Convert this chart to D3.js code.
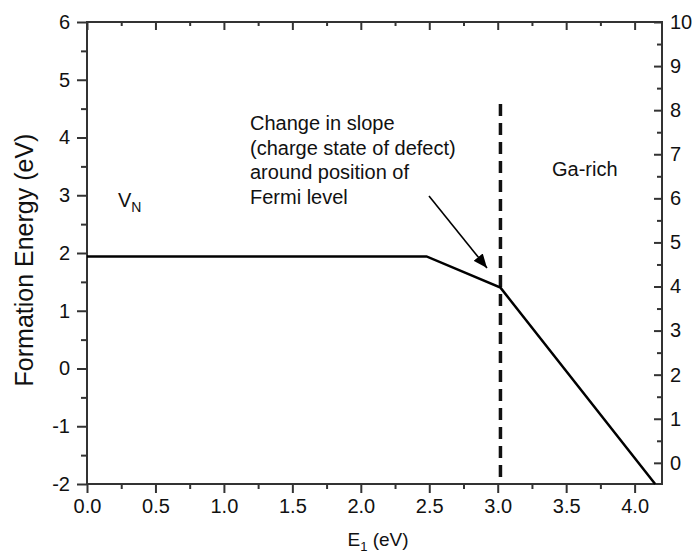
<!DOCTYPE html>
<html>
<head>
<meta charset="utf-8">
<script src="https://cdn.jsdelivr.net/npm/d3@7"></script>
<style>
  html, body { margin: 0; padding: 0; background: #fff; }
  svg { display: block; font-family: "Liberation Sans", Arial, Helvetica, sans-serif; }
</style>
</head>
<body>
<svg id="chart" width="692" height="556"></svg>
<script>
// Formation energy of the nitrogen vacancy versus Fermi level
const fermiLevel = [0, 2.48, 3.02, 4.15];
const formationEnergy = [1.94, 1.94, 1.40, -2.0];
const xTicks = [0, 0.5, 1.0, 1.5, 2.0, 2.5, 3.0, 3.5, 4.0];
const xMinorTicks = [0.25, 0.75, 1.25, 1.75, 2.25, 2.75, 3.25, 3.75];
const yTicks = [-2, -1, 0, 1, 2, 3, 4, 5, 6];
const yMinorTicks = [-1.5, -0.5, 0.5, 1.5, 2.5, 3.5, 4.5, 5.5];
const y2Ticks = [0, 1, 2, 3, 4, 5, 6, 7, 8, 9, 10];
const y2MinorTicks = [0.5, 1.5, 2.5, 3.5, 4.5, 5.5, 6.5, 7.5, 8.5, 9.5];
const bandEdge = [3.02];
const annotationLines = ["Change in slope", "(charge state of defect)", "around position of", "Fermi level"];

const svg = d3.select("#chart");
const L = 87, R = 662, T = 22, B = 484;

const x = d3.scaleLinear().domain([0, 4.2]).range([L, R]);
const y = d3.scaleLinear().domain([-2, 6]).range([B, T]);
const y2 = d3.scaleLinear().domain([-0.48, 10]).range([B, T]);

const axisColor = "#333";
const fontSize = 20;

function styleAxis(g, labels) {
  g.select(".domain").remove();
  g.selectAll(".tick line").attr("stroke", axisColor).attr("stroke-width", 2);
  g.selectAll(".tick text")
    .attr("fill", "#111")
    .style("font-size", labels ? fontSize + "px" : "0px")
    .style("font-family", "'Liberation Sans', Arial, sans-serif");
}

const fmt = d => String(d);

// left axis
svg.append("g").attr("transform", `translate(${L},0)`)
  .call(d3.axisLeft(y).tickValues(yTicks).tickFormat(fmt).tickSize(10).tickPadding(7))
  .call(g => styleAxis(g, true));
svg.append("g").attr("transform", `translate(${L},0)`)
  .call(d3.axisLeft(y).tickValues(yMinorTicks).tickFormat("").tickSize(6))
  .call(g => styleAxis(g, false));

// right axis (ticks inward)
svg.append("g").attr("transform", `translate(${R},0)`)
  .call(d3.axisRight(y2).tickValues(y2Ticks).tickFormat(fmt).tickSize(-8).tickPadding(8))
  .call(g => styleAxis(g, true));
svg.append("g").attr("transform", `translate(${R},0)`)
  .call(d3.axisRight(y2).tickValues(y2MinorTicks).tickFormat("").tickSize(-5))
  .call(g => styleAxis(g, false));

// bottom axis
svg.append("g").attr("transform", `translate(0,${B})`)
  .call(d3.axisBottom(x).tickValues(xTicks).tickFormat(d3.format(".1f")).tickSize(9).tickPadding(6))
  .call(g => styleAxis(g, true));
svg.append("g").attr("transform", `translate(0,${B})`)
  .call(d3.axisBottom(x).tickValues(xMinorTicks).tickFormat("").tickSize(5))
  .call(g => styleAxis(g, false));

// top axis (ticks inward, no labels)
svg.append("g").attr("transform", `translate(0,${T})`)
  .call(d3.axisTop(x).tickValues(xTicks).tickFormat("").tickSize(-8))
  .call(g => styleAxis(g, false));
svg.append("g").attr("transform", `translate(0,${T})`)
  .call(d3.axisTop(x).tickValues(xMinorTicks).tickFormat("").tickSize(-4))
  .call(g => styleAxis(g, false));

// frame
svg.append("rect")
  .attr("x", L).attr("y", T).attr("width", R - L).attr("height", B - T)
  .attr("fill", "none").attr("stroke", axisColor).attr("stroke-width", 2);

// band edge marker
svg.selectAll(".edge").data(bandEdge).enter().append("line")
  .attr("class", "edge")
  .attr("x1", d => x(d)).attr("x2", d => x(d))
  .attr("y1", 104).attr("y2", B)
  .attr("stroke", "#111").attr("stroke-width", 3.5)
  .attr("stroke-dasharray", "12,7");

// formation energy curve
const pts = fermiLevel.map((v, i) => [v, formationEnergy[i]]);
svg.append("path")
  .datum(pts)
  .attr("d", d3.line().x(d => x(d[0])).y(d => y(d[1])))
  .attr("fill", "none").attr("stroke", "#000").attr("stroke-width", 2.5)
  .attr("stroke-linejoin", "miter");

// annotation text
const ann = svg.append("text")
  .attr("x", 250).attr("y", 130)
  .attr("fill", "#111").style("font-size", "20px");
annotationLines.forEach((t, i) => {
  ann.append("tspan").attr("x", 250).attr("dy", i === 0 ? 0 : 24.7).text(t);
});

// arrow
svg.append("defs").append("marker")
  .attr("id", "head").attr("viewBox", "0 0 12 10")
  .attr("refX", 12).attr("refY", 5)
  .attr("markerWidth", 14).attr("markerHeight", 12)
  .attr("markerUnits", "userSpaceOnUse")
  .attr("orient", "auto")
  .append("path").attr("d", "M0,0 L12,5 L0,10 Z").attr("fill", "#000");
svg.append("line")
  .attr("x1", 429).attr("y1", 196).attr("x2", 487).attr("y2", 268)
  .attr("stroke", "#000").attr("stroke-width", 1.6)
  .attr("marker-end", "url(#head)");

// region labels
const vn = svg.append("text").attr("x", 118).attr("y", 207)
  .attr("fill", "#111").style("font-size", "20px");
vn.append("tspan").text("V");
vn.append("tspan").attr("dy", 5).style("font-size", "14px").text("N");

svg.append("text").attr("x", 552).attr("y", 176)
  .attr("fill", "#111").style("font-size", "20px").text("Ga-rich");

// axis titles
svg.append("text")
  .attr("transform", "translate(33,260) rotate(-90)")
  .attr("text-anchor", "middle")
  .attr("fill", "#111").style("font-size", "25px")
  .text("Formation Energy (eV)");

const xl = svg.append("text").attr("x", 378).attr("y", 546)
  .attr("text-anchor", "middle").attr("fill", "#111").style("font-size", "19px");
xl.append("tspan").text("E");
xl.append("tspan").attr("dy", 5).style("font-size", "13px").text("1");
xl.append("tspan").attr("dy", -5).text(" (eV)");
</script>
</body>
</html>
